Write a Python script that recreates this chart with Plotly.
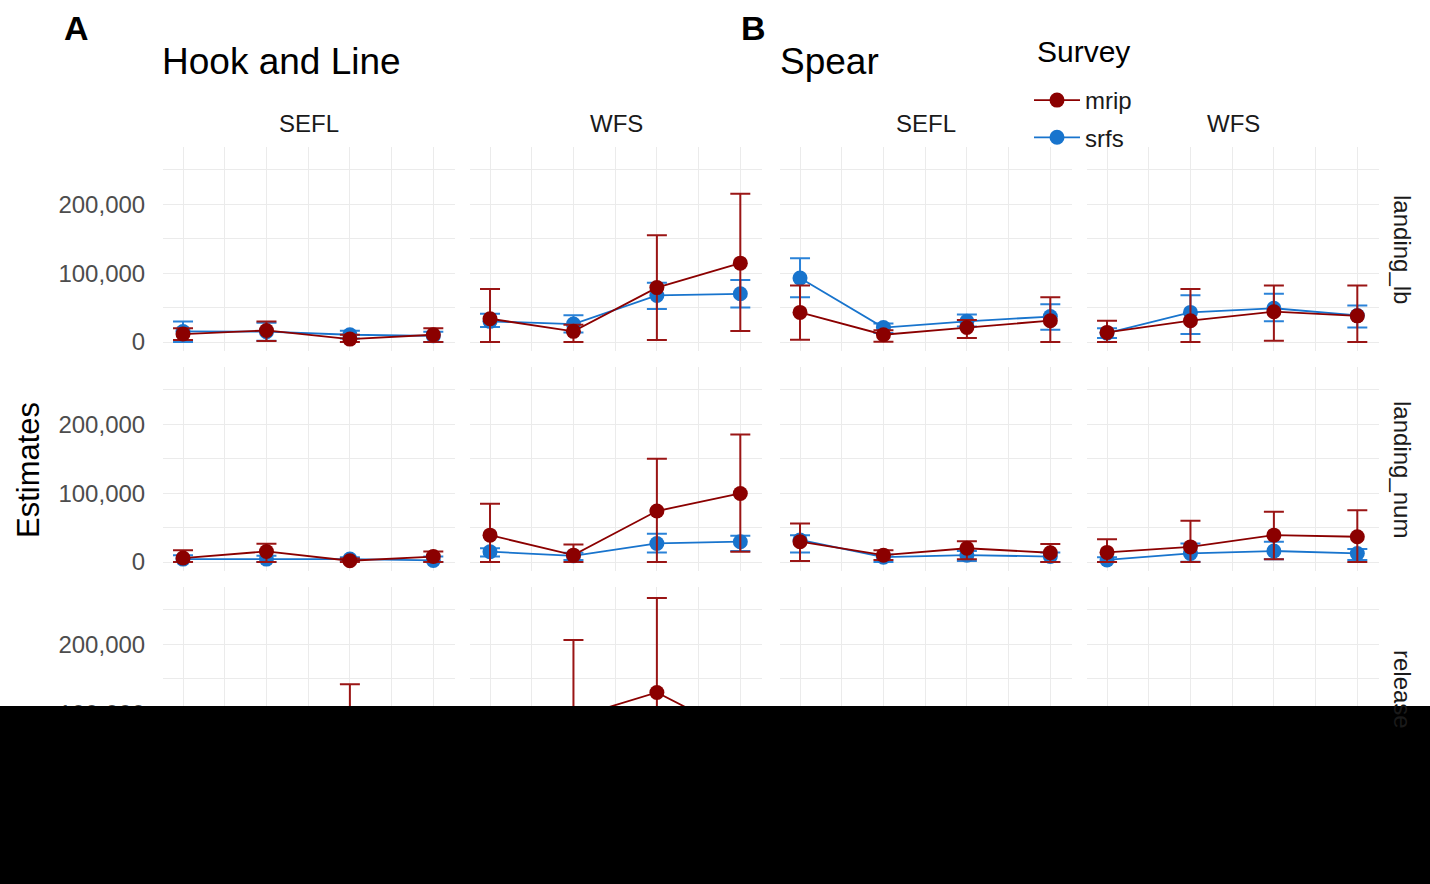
import plotly.graph_objects as go

W, H = 1430, 884
HY = 880.0  # effective vertical pixel scale used for paper fractions

# ---------------- data ----------------
periods = [1, 2, 3, 4]
gears = ["Hook and Line", "Spear"]
regions = ["SEFL", "WFS"]
metrics = ["landing_lb", "landing_num", "release"]
surveys = ["mrip", "srfs"]

# each list: panels in order HL-SEFL, HL-WFS, Spear-SEFL, Spear-WFS; 4 periods each
mrip_lb_est = [[11600, 16800, 4300, 10600], [33800, 15500, 79000, 114500],
               [43000, 10600, 21000, 31000], [14000, 31000, 44000, 38000]]
mrip_lb_lo = [[3000, 1500, 0, 0], [0, 0, 3000, 16000],
              [3400, 500, 6000, 0], [0, 0, 2000, 0]]
mrip_lb_hi = [[20000, 29900, 10600, 20000], [77000, 25000, 155000, 215000],
              [82000, 17000, 32000, 65000], [31000, 77000, 82000, 82000]]
srfs_lb_est = [[15400, 15000, 10600, 9000], [30000, 26000, 67600, 70000],
               [92800, 21000, 30000, 37000], [13000, 43000, 49000, 38600]]
srfs_lb_lo = [[0, 2000, 5300, 0], [22000, 14000, 48000, 50000],
              [65000, 13000, 22700, 18000], [6000, 11600, 30000, 21000]]
srfs_lb_hi = [[29900, 28000, 16400, 15000], [41000, 39000, 86000, 90000],
              [121700, 27000, 40000, 55000], [20000, 68000, 70000, 53000]]

mrip_num_est = [[5800, 15400, 1900, 8000], [39000, 10000, 74000, 99500],
                [29500, 10000, 20000, 13500], [14000, 22000, 39000, 36700]]
mrip_num_lo = [[0, 0, 0, 0], [0, 0, 0, 15000],
               [1500, 3000, 4000, 0], [0, 0, 4000, 0]]
mrip_num_hi = [[17000, 26600, 5000, 15400], [84500, 25600, 150000, 185000],
               [56000, 17000, 30000, 26000], [33000, 60000, 73000, 75000]]
srfs_num_est = [[4300, 4300, 4300, 2400], [15000, 9000, 27000, 29500],
                [32000, 7000, 10000, 8000], [3000, 12500, 16000, 12500]]
srfs_num_lo = [[0, 0, 1000, 0], [8000, 3000, 14000, 16000],
               [14000, 0, 1500, 0], [0, 500, 4000, 3000]]
srfs_num_hi = [[10000, 9000, 7000, 8000], [20000, 13500, 41000, 38000],
               [39000, 11000, 16000, 14000], [7000, 27000, 29500, 19000]]

mrip_rel_est = [[30000, 35000, 60000, 25000], [40000, 93000, 130000, 68000],
                [10000, 8000, 12000, 9000], [12000, 15000, 20000, 18000]]
mrip_rel_lo = [[5000, 5000, 0, 3000], [5000, 0, 0, 30000],
               [2000, 1000, 3000, 1000], [2000, 3000, 5000, 4000]]
mrip_rel_hi = [[60000, 70000, 142000, 55000], [90000, 206000, 267000, 105000],
               [20000, 16000, 24000, 18000], [24000, 30000, 40000, 35000]]
srfs_rel_est = [[15000, 18000, 20000, 16000], [25000, 30000, 45000, 40000],
                [8000, 6000, 9000, 7000], [9000, 12000, 14000, 13000]]
srfs_rel_lo = [[8000, 10000, 12000, 9000], [15000, 20000, 30000, 28000],
               [3000, 2000, 4000, 3000], [4000, 6000, 7000, 7000]]
srfs_rel_hi = [[22000, 26000, 28000, 23000], [35000, 40000, 60000, 52000],
               [13000, 10000, 14000, 11000], [14000, 18000, 21000, 19000]]

y_tickvals = [0, 100000, 200000]
y_ticktext = ["0", "100,000", "200,000"]

# ---------------- styling ----------------
FONT = "Liberation Sans, Arial, sans-serif"
COL = {"mrip": "#8B0000", "srfs": "#1874CD"}
ERRCOL = {"mrip": "#9A1515", "srfs": "#2A82D8"}
GRID = "#EBEBEB"
col_px = [(163, 455), (470, 762), (780, 1072), (1087, 1379)]
row_px = [(147, 351), (367, 571), (587, 791)]


def fy(y):
    return 1 - y / HY


data = {
    ("landing_lb", "mrip"): (mrip_lb_est, mrip_lb_lo, mrip_lb_hi),
    ("landing_lb", "srfs"): (srfs_lb_est, srfs_lb_lo, srfs_lb_hi),
    ("landing_num", "mrip"): (mrip_num_est, mrip_num_lo, mrip_num_hi),
    ("landing_num", "srfs"): (srfs_num_est, srfs_num_lo, srfs_num_hi),
    ("release", "mrip"): (mrip_rel_est, mrip_rel_lo, mrip_rel_hi),
    ("release", "srfs"): (srfs_rel_est, srfs_rel_lo, srfs_rel_hi),
}

fig = go.Figure()
layout = {}
for r, metric in enumerate(metrics):
    for c in range(4):
        k = r * 4 + c + 1
        sfx = "" if k == 1 else str(k)
        x0, x1 = col_px[c]
        yt, yb = row_px[r]
        layout["xaxis" + sfx] = dict(
            domain=[x0 / W, x1 / W], anchor="y" + sfx, range=[0.76, 4.26],
            tickmode="array", tickvals=periods, showticklabels=False,
            showgrid=True, gridcolor=GRID, gridwidth=1.2,
            minor=dict(tickvals=[1.5, 2.5, 3.5], showgrid=True, gridcolor=GRID, gridwidth=1.2),
            zeroline=False, showline=False, ticks="", fixedrange=True)
        layout["yaxis" + sfx] = dict(
            domain=[max(0, fy(yb)), fy(yt)], anchor="x" + sfx, range=[-13000, 283000],
            tickmode="array", tickvals=y_tickvals, ticktext=y_ticktext,
            showticklabels=(c == 0),
            tickfont=dict(family=FONT, size=24, color="#4D4D4D"),
            ticks="outside" if c == 0 else "", ticklen=12, tickcolor="rgba(0,0,0,0)",
            showgrid=True, gridcolor=GRID, gridwidth=1.2,
            minor=dict(tickvals=[50000, 150000, 250000], showgrid=True, gridcolor=GRID, gridwidth=1.2),
            zeroline=False, showline=False, fixedrange=True)
        for s in ["srfs", "mrip"]:
            est, lo, hi = data[(metric, s)]
            e, l, h = est[c], lo[c], hi[c]
            fig.add_trace(go.Scatter(
                x=periods, y=e, mode="lines+markers", name=s,
                legendgroup=s, legendrank=1 if s == "mrip" else 2,
                showlegend=(k == 1),
                line=dict(color=COL[s], width=1.8),
                marker=dict(color=COL[s], size=15),
                error_y=dict(type="data", symmetric=False,
                             array=[hv - ev for hv, ev in zip(h, e)],
                             arrayminus=[ev - lv for ev, lv in zip(e, l)],
                             color=ERRCOL[s], thickness=2, width=10),
                xaxis="x" + sfx, yaxis="y" + sfx))

annotations = []


def ann(text, x, y, size, color="#000000", angle=0, xanchor="center", bold=False):
    annotations.append(dict(
        text=("<b>%s</b>" % text) if bold else text, x=x / W, y=fy(y),
        xref="paper", yref="paper", showarrow=False, textangle=angle,
        xanchor=xanchor, yanchor="middle",
        font=dict(family=FONT, size=size, color=color)))


ann("A", 62, 28, 34, bold=True, xanchor="left")
ann("B", 739, 28, 34, bold=True, xanchor="left")
ann(gears[0], 160, 62, 37, xanchor="left")
ann(gears[1], 778, 62, 37, xanchor="left")
for c in range(4):
    x0, x1 = col_px[c]
    ann(regions[c % 2], (x0 + x1) / 2, 124, 24, color="#1A1A1A")
for r, metric in enumerate(metrics):
    yt, yb = row_px[r]
    ann(metric, 1403, (yt + yb) / 2, 24, color="#1A1A1A", angle=90)
ann("Estimates", 28, 470, 31, angle=-90)
ann("Survey", 1035, 51, 30, xanchor="left")

layout.update(dict(
    width=W, height=H, margin=dict(l=0, r=0, t=0, b=0),
    paper_bgcolor="white", plot_bgcolor="white",
    font=dict(family=FONT, color="#000000"),
    annotations=annotations,
    showlegend=True,
    legend=dict(
        x=1029 / W, y=fy(78), xanchor="left", yanchor="top",
        font=dict(family=FONT, size=24, color="#1A1A1A"),
        itemwidth=46, bgcolor="rgba(0,0,0,0)", tracegroupgap=3),
    shapes=[dict(type="rect", xref="paper", yref="paper", x0=-0.01, x1=1.01,
                 y0=-0.05, y1=fy(706), fillcolor="black", line=dict(width=0),
                 layer="above")],
))
fig.update_layout(**layout)
fig.write_html("out.html", config={"displayModeBar": False},
               post_script="document.body.style.margin='0px';document.body.style.overflow='hidden';")
